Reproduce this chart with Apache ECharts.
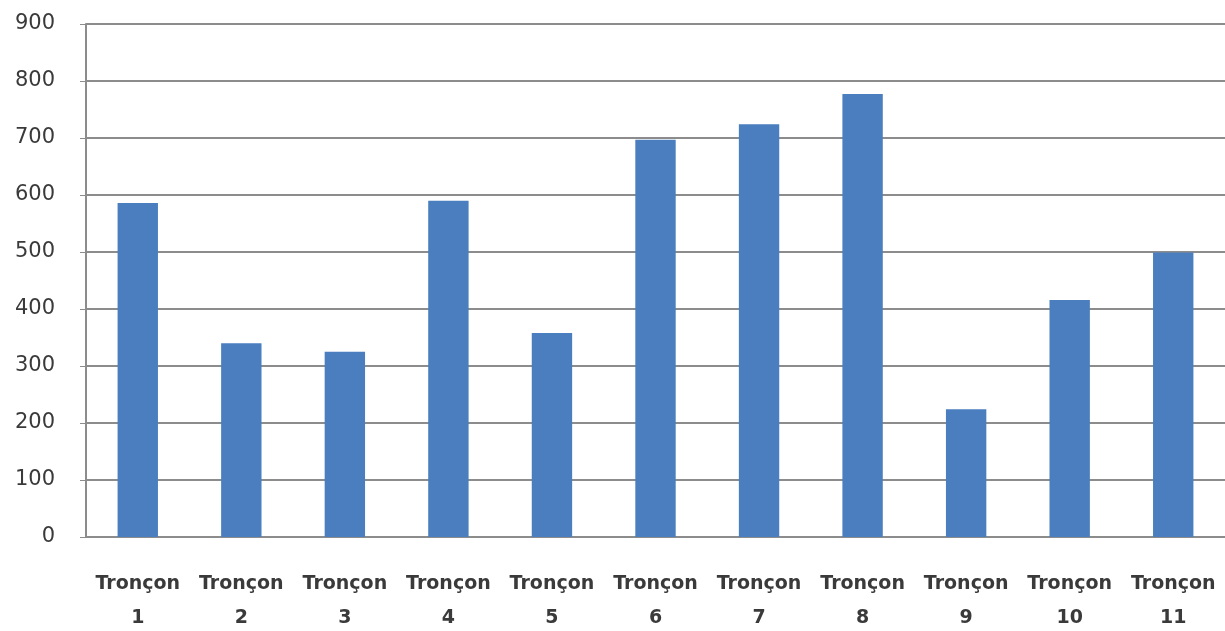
<!DOCTYPE html>
<html>
<head>
<meta charset="utf-8">
<script src="https://cdn.jsdelivr.net/npm/echarts@6/dist/echarts.min.js"></script>
<style>
  html, body { margin: 0; padding: 0; background: #fff; }
  #main { width: 1225px; height: 631px; }
</style>
</head>
<body>
<div id="main"></div>
<script>
var categories = ['Tronçon\n1', 'Tronçon\n2', 'Tronçon\n3', 'Tronçon\n4', 'Tronçon\n5', 'Tronçon\n6',
	'Tronçon\n7', 'Tronçon\n8', 'Tronçon\n9', 'Tronçon\n10', 'Tronçon\n11'];
var values = [586, 340, 325, 590, 358, 697, 724, 777, 224, 416, 499];
var yMin = 0, yMax = 900, yStep = 100;

var chart = echarts.init(document.getElementById('main'));
var option = {
	animation: false,
	grid: {
		left: 86,
		right: 0,
		top: 24,
		bottom: 94,
		outerBoundsMode: 'none'
	},
	xAxis: {
		type: 'category',
		data: categories,
		axisLine: { lineStyle: { color: '#8c8c8c', width: 2 } },
		axisTick: { show: false },
		axisLabel: {
			margin: 30,
			interval: 0,
			color: '#3a3a3a',
			fontFamily: 'DejaVu Sans',
			fontWeight: 'bold',
			fontSize: 19,
			lineHeight: 34
		}
	},
	yAxis: {
		type: 'value',
		min: yMin,
		max: yMax,
		interval: yStep,
		axisLine: { show: true, lineStyle: { color: '#8c8c8c', width: 2 } },
		axisTick: { show: true, length: 6, lineStyle: { color: '#8c8c8c' } },
		splitLine: { lineStyle: { color: '#8c8c8c', width: 2 } },
		axisLabel: {
			margin: 31,
			color: '#3a3a3a',
			fontFamily: 'DejaVu Sans',
			fontSize: 21
		}
	},
	series: [{
		type: 'bar',
		data: values,
		barWidth: '39%',
		itemStyle: { color: '#4a7ebf' }
	}]
};
chart.setOption(option);
</script>
</body>
</html>
